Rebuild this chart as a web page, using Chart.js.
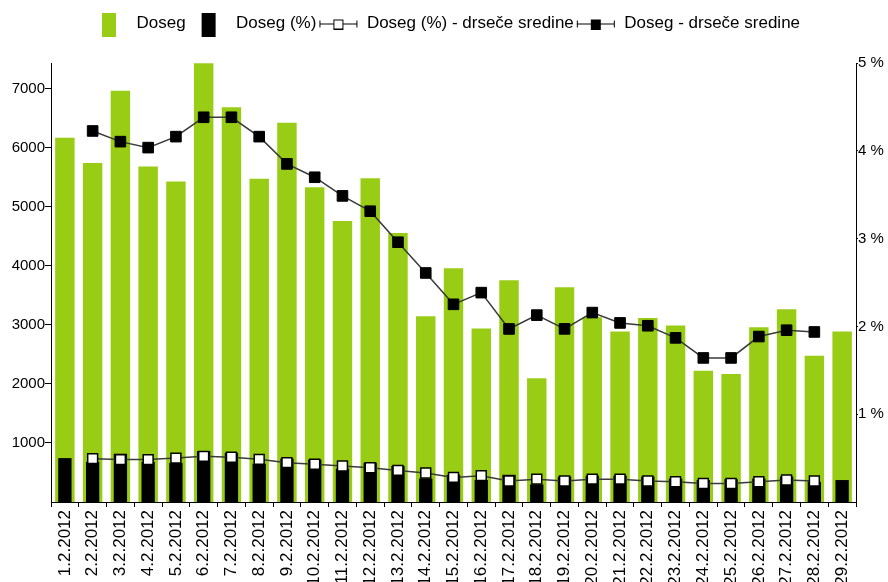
<!DOCTYPE html>
<html>
<head>
<meta charset="utf-8">
<script src="https://cdn.jsdelivr.net/npm/chart.js@4.4.1/dist/chart.umd.min.js"></script>
<style>
  html, body { margin: 0; padding: 0; background: #fff; }
</style>
</head>
<body>
<canvas id="reach" width="888" height="582"></canvas>
<script>
const days = ['1.2.2012', '2.2.2012', '3.2.2012', '4.2.2012', '5.2.2012', '6.2.2012', '7.2.2012',
  '8.2.2012', '9.2.2012', '10.2.2012', '11.2.2012', '12.2.2012', '13.2.2012', '14.2.2012',
  '15.2.2012', '16.2.2012', '17.2.2012', '18.2.2012', '19.2.2012', '20.2.2012', '21.2.2012',
  '22.2.2012', '23.2.2012', '24.2.2012', '25.2.2012', '26.2.2012', '27.2.2012', '28.2.2012', '29.2.2012'];

// Doseg (left axis)
const doseg = [6170, 5740, 6965, 5680, 5430, 7430, 6685, 5475, 6425, 5330, 4760, 5485, 4555, 3145,
  3960, 2940, 3755, 2095, 3635, 3130, 2888, 3115, 2990, 2222, 2167, 2960, 3265, 2477, 2888];

// Doseg (%) (right axis)
const dosegPct = [0.50, 0.457, 0.55, 0.457, 0.445, 0.58, 0.56, 0.436, 0.494, 0.483, 0.38, 0.448, 0.41, 0.267,
  0.31, 0.25, 0.31, 0.20, 0.29, 0.30, 0.30, 0.29, 0.267, 0.25, 0.26, 0.267, 0.29, 0.23, 0.25];

// moving averages
const dosegPctAvg = [null, 0.494, 0.483, 0.483, 0.50, 0.52, 0.51, 0.486, 0.448, 0.43, 0.41, 0.39, 0.36, 0.33,
  0.28, 0.30, 0.24, 0.26, 0.24, 0.26, 0.26, 0.24, 0.23, 0.21, 0.21, 0.23, 0.25, 0.24, null];

const dosegAvg = [null, 6284, 6103, 6002, 6188, 6516, 6516, 6188, 5726, 5500, 5184, 4925, 4400, 3879,
  3348, 3546, 2931, 3165, 2932, 3208, 3033, 2985, 2780, 2440, 2440, 2802, 2910, 2880, null];

const leftTicks = [1000, 2000, 3000, 4000, 5000, 6000, 7000];
const rightTicks = [1, 2, 3, 4, 5];

const green = '#99cc14';
const fontFamily = "'Liberation Sans', Arial, sans-serif";

// little pictures for the legend
function makeIcon(kind, fill) {
  const c = document.createElement('canvas');
  const g = c.getContext('2d');
  if (kind === 'box') {
    c.width = 40; c.height = 27;
    g.fillStyle = fill;
    g.fillRect(14, 0, 14, 27);
  } else {
    c.width = 40; c.height = 12;
    g.strokeStyle = '#000';
    g.lineWidth = 1;
    g.beginPath();
    g.moveTo(1, 6.5); g.lineTo(39, 6.5);
    g.moveTo(1.5, 3); g.lineTo(1.5, 10);
    g.moveTo(38.5, 3); g.lineTo(38.5, 10);
    g.stroke();
    g.fillStyle = fill;
    g.fillRect(15, 2, 10, 10);
    g.strokeRect(15.5, 2.5, 9, 9);
  }
  return c;
}

const legendIcons = [
  { text: 'Doseg', icon: makeIcon('box', green), ds: 3 },
  { text: 'Doseg (%)', icon: makeIcon('box', '#000'), ds: 2 },
  { text: 'Doseg (%) - drseče sredine', icon: makeIcon('line', '#fff'), ds: 1 },
  { text: 'Doseg - drseče sredine', icon: makeIcon('line', '#000'), ds: 0 }
];

// legend takes fixed room above the plot
const legendSpace = {
  id: 'legendSpace',
  beforeInit(chart) {
    const lg = chart.legend;
    if (!lg) return;
    const fit = lg.fit;
    lg.fit = function () {
      fit.call(this);
      this.height = 50;
    };
  }
};

const ctx = document.getElementById('reach').getContext('2d');
new Chart(ctx, {
  type: 'bar',
  data: {
    labels: days,
    datasets: [
      {
        type: 'line',
        label: 'Doseg - drseče sredine',
        data: dosegAvg,
        yAxisID: 'y',
        borderColor: '#3a3a3a',
        borderWidth: 1.5,
        pointStyle: 'rect',
        pointRadius: 7.5,
        pointBackgroundColor: '#000',
        pointBorderColor: '#000',
        pointBorderWidth: 1,
        order: 0
      },
      {
        type: 'line',
        label: 'Doseg (%) - drseče sredine',
        data: dosegPctAvg,
        yAxisID: 'y2',
        borderColor: '#3a3a3a',
        borderWidth: 1.5,
        pointStyle: 'rect',
        pointRadius: 7,
        pointBackgroundColor: '#fff',
        pointBorderColor: '#000',
        pointBorderWidth: 1.5,
        order: 1
      },
      {
        label: 'Doseg (%)',
        data: dosegPct,
        yAxisID: 'y2',
        backgroundColor: '#000',
        barPercentage: 0.48,
        categoryPercentage: 1,
        grouped: false,
        order: 2
      },
      {
        label: 'Doseg',
        data: doseg,
        yAxisID: 'y',
        backgroundColor: green,
        barPercentage: 0.7,
        categoryPercentage: 1,
        grouped: false,
        order: 3
      }
    ]
  },
  options: {
    responsive: false,
    animation: false,
    layout: { padding: { top: 13, left: 0, right: 0, bottom: 0 } },
    plugins: {
      tooltip: { enabled: false },
      legend: {
        position: 'top',
        align: 'center',
        labels: {
          usePointStyle: true,
          pointStyleWidth: 40,
          boxHeight: 17,
          padding: 2,
          color: '#000',
          font: { family: fontFamily, size: 17 },
          generateLabels: () => legendIcons.map(item => ({
            text: item.text,
            pointStyle: item.icon,
            fillStyle: '#000',
            strokeStyle: '#000',
            lineWidth: 0,
            hidden: false,
            datasetIndex: item.ds
          }))
        }
      }
    },
    scales: {
      x: {
        offset: true,
        grid: { display: true, drawOnChartArea: false, tickLength: 5, color: '#000' },
        border: { color: '#000', width: 1 },
        ticks: {
          autoSkip: false,
          maxRotation: 90,
          minRotation: 90,
          padding: 3,
          color: '#000',
          font: { family: fontFamily, size: 17 }
        },
        afterFit: scale => { scale.height = 80; }
      },
      y: {
        position: 'left',
        min: 0,
        max: 7435,
        grid: { drawOnChartArea: false, tickLength: 6, color: '#000' },
        border: { color: '#000', width: 1 },
        ticks: {
          padding: 0,
          color: '#000',
          font: { family: fontFamily, size: 15 },
          callback: v => String(v)
        },
        afterBuildTicks: scale => { scale.ticks = leftTicks.map(v => ({ value: v })); },
        afterFit: scale => { scale.width = 51; }
      },
      y2: {
        position: 'right',
        min: 0,
        max: 5,
        grid: { drawOnChartArea: false, tickLength: 2, color: '#000' },
        border: { color: '#000', width: 1 },
        ticks: {
          padding: 0,
          color: '#000',
          font: { family: fontFamily, size: 15 },
          callback: v => v + ' %'
        },
        afterBuildTicks: scale => { scale.ticks = rightTicks.map(v => ({ value: v })); },
        afterFit: scale => { scale.width = 32; }
      }
    }
  },
  plugins: [legendSpace]
});
</script>
</body>
</html>
